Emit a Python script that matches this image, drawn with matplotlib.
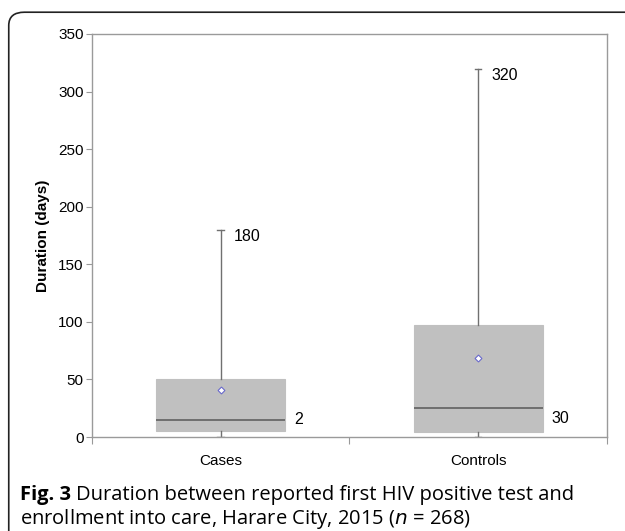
import matplotlib.pyplot as plt
from matplotlib.patches import FancyBboxPatch

# data
groups = ['Cases', 'Controls']
q1 = [5, 4.5]
medians = [15, 25]
q3 = [50, 97]
means = [40.5, 69]
whisk_lo = [0, 0]
whisk_hi = [180, 320]
max_labels = ['180', '320']
min_labels = ['2', '30']
min_label_y = [15, 16]

plt.rcParams['font.family'] = ['Liberation Sans', 'DejaVu Sans']

fig = plt.figure(figsize=(6.25, 5.31), dpi=100)
ax = fig.add_axes([0.147, 0.177, 0.824, 0.759])

# rounded panel border
border = FancyBboxPatch((0.014, -0.05), 1.05, 1.027,
                        boxstyle='round,pad=0,rounding_size=0.025',
                        transform=fig.transFigure, fill=False,
                        edgecolor='#222222', linewidth=1.2, clip_on=False)
fig.patches.append(border)

positions = [0.5, 1.5]
stats = []
for i, g in enumerate(groups):
    stats.append(dict(label=g, q1=q1[i], med=medians[i], q3=q3[i],
                      mean=means[i], whislo=whisk_lo[i], whishi=whisk_hi[i],
                      fliers=[]))

ax.bxp(stats, positions=positions, widths=0.5, capwidths=0.025,
       patch_artist=True, showmeans=True, showfliers=False,
       boxprops=dict(facecolor='#c0c0c0', edgecolor='#c0c0c0', linewidth=0.8),
       medianprops=dict(color='#606060', linewidth=1.2),
       whiskerprops=dict(color='#707070', linewidth=1.0),
       capprops=dict(color='#707070', linewidth=1.0),
       meanprops=dict(marker='D', markersize=3.5, markerfacecolor='white',
                      markeredgecolor='#6a6acc', markeredgewidth=0.8))

for i in range(len(groups)):
    ax.text(positions[i] + 0.05, whisk_hi[i] - 6, max_labels[i],
            fontsize=11.5, va='center', ha='left')
    ax.text(positions[i] + 0.285, min_label_y[i], min_labels[i],
            fontsize=11.5, va='center', ha='left')

ax.set_xlim(0, 2)
ax.set_ylim(0, 350)
ax.set_yticks(range(0, 351, 50))
ax.set_xticks([0, 1, 2])
ax.set_xticklabels([])
ax.set_xticks(positions, minor=True)
ax.set_xticklabels(groups, minor=True)
ax.tick_params(axis='x', which='minor', length=0, labelsize=11, pad=12)
ax.tick_params(axis='x', which='major', length=5, color='#999999')
ax.tick_params(axis='y', length=4, color='#999999', labelsize=11, pad=2)
for s in ax.spines.values():
    s.set_color('#9a9a9a')
    s.set_linewidth(1.0)
ax.set_ylabel('Duration (days)', fontsize=11, fontweight='bold', labelpad=6)

# caption
fam = ['Open Sans', 'DejaVu Sans']
fs = 14.5
t = fig.text(0.032, 0.058, 'Fig. 3', fontsize=fs, fontweight='bold',
             family=fam, va='baseline')
r = fig.canvas.get_renderer()
bb = t.get_window_extent(renderer=r)
x2 = (bb.x1 + 5) / fig.bbox.width
fig.text(x2, 0.058, 'Duration between reported first HIV positive test and',
         fontsize=fs, family=fam, va='baseline')
fig.text(0.032, 0.014,
         'enrollment into care, Harare City, 2015 ($\\it{n}$ = 268)',
         fontsize=fs, family=fam, va='baseline')

fig.savefig('out.png', dpi=100)
